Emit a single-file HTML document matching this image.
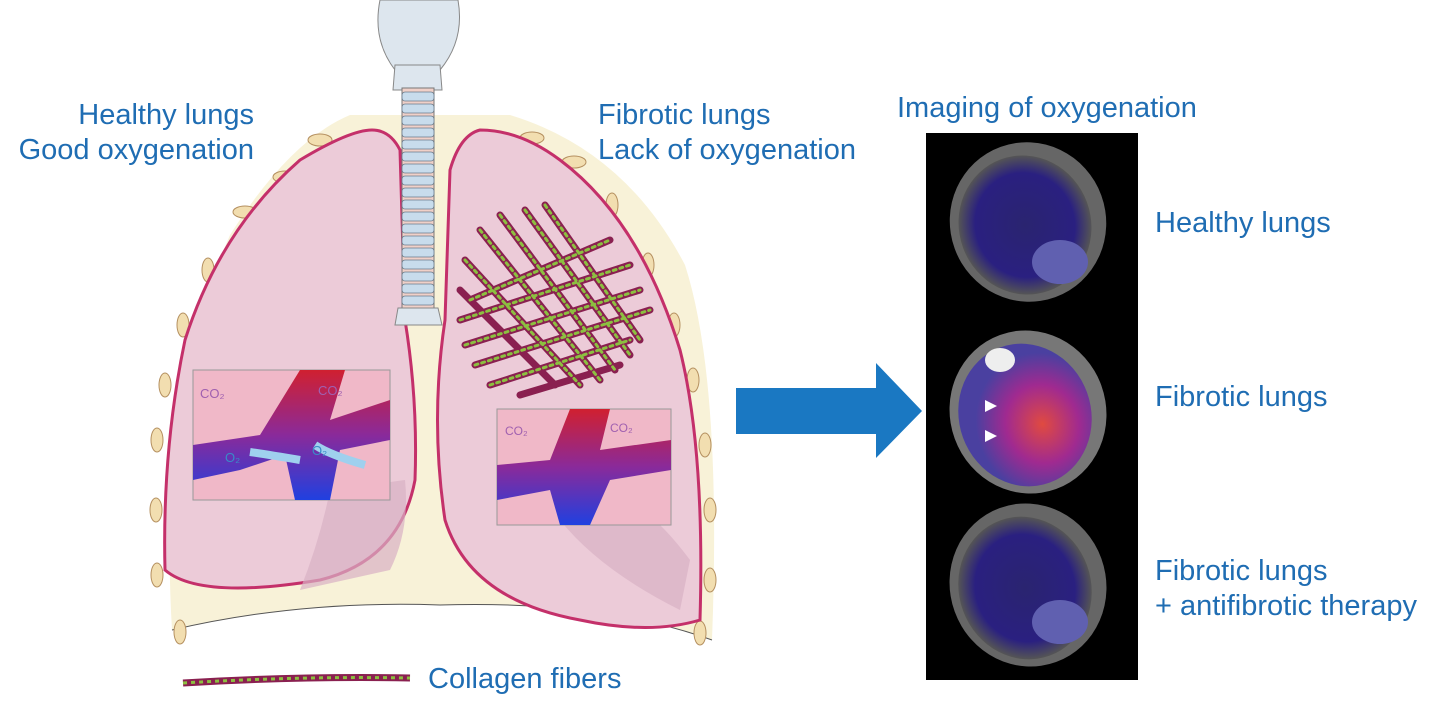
<!DOCTYPE html>
<html><head><meta charset="utf-8"><style>
body{margin:0;background:#fff;width:1435px;height:714px;overflow:hidden;position:relative;font-family:"Liberation Sans",Arial,sans-serif}
.t{position:absolute;color:#1f6db3;font-size:29px;line-height:35px;white-space:nowrap}
</style></head><body>
<svg width="1435" height="714" style="position:absolute;left:0;top:0">
<defs>
<linearGradient id="v" x1="0" y1="0" x2="0" y2="1"><stop offset="0" stop-color="#d02030"/><stop offset="0.5" stop-color="#8a2a9a"/><stop offset="1" stop-color="#2040e0"/></linearGradient>
<radialGradient id="s1" cx="0.5" cy="0.5" r="0.5"><stop offset="0" stop-color="#2a2470"/><stop offset="0.75" stop-color="#2a2080"/><stop offset="1" stop-color="#555"/></radialGradient>
<radialGradient id="s2" cx="0.6" cy="0.6" r="0.5"><stop offset="0" stop-color="#e04a40"/><stop offset="0.55" stop-color="#a02a90"/><stop offset="1" stop-color="#4a40a0"/></radialGradient>
</defs>
<!-- chest -->
<path d="M172,630 Q158,400 230,235 Q290,140 350,115 L510,115 Q625,150 685,265 Q722,380 712,640 Q600,600 440,605 Q300,600 172,630 Z" fill="#f8f2d8"/>
<path d="M172,630 Q300,600 440,605 Q600,600 712,640" fill="none" stroke="#555" stroke-width="1"/>
<!-- ribs -->
<g fill="#f2deb0" stroke="#b59060" stroke-width="1">
<ellipse cx="320" cy="140" rx="12" ry="6"/><ellipse cx="285" cy="177" rx="12" ry="6"/><ellipse cx="245" cy="212" rx="12" ry="6"/><ellipse cx="208" cy="270" rx="6" ry="12"/><ellipse cx="183" cy="325" rx="6" ry="12"/><ellipse cx="165" cy="385" rx="6" ry="12"/><ellipse cx="157" cy="440" rx="6" ry="12"/><ellipse cx="156" cy="510" rx="6" ry="12"/><ellipse cx="157" cy="575" rx="6" ry="12"/><ellipse cx="180" cy="632" rx="6" ry="12"/>
<ellipse cx="532" cy="138" rx="12" ry="6"/><ellipse cx="574" cy="162" rx="12" ry="6"/><ellipse cx="612" cy="205" rx="6" ry="12"/><ellipse cx="648" cy="265" rx="6" ry="12"/><ellipse cx="674" cy="325" rx="6" ry="12"/><ellipse cx="693" cy="380" rx="6" ry="12"/><ellipse cx="705" cy="445" rx="6" ry="12"/><ellipse cx="710" cy="510" rx="6" ry="12"/><ellipse cx="710" cy="580" rx="6" ry="12"/><ellipse cx="700" cy="633" rx="6" ry="12"/>
</g>
<!-- lungs -->
<path d="M372,130 Q350,130 300,160 Q220,230 185,340 Q162,450 165,570 Q200,600 320,580 Q400,560 415,480 Q418,400 405,320 L400,150 Q390,130 372,130 Z" fill="#eccbd8" stroke="#c4306a" stroke-width="3"/>
<path d="M480,130 Q460,135 450,170 L445,320 Q430,420 445,520 Q470,600 580,620 Q650,635 700,620 Q705,450 680,350 Q640,220 560,160 Q520,130 480,130 Z" fill="#eccbd8" stroke="#c4306a" stroke-width="3"/>
<path d="M330,490 Q320,540 300,590 L390,570 Q410,530 405,480 Z" fill="#d8b0c4" opacity="0.7"/>
<path d="M560,520 Q600,570 680,610 L690,560 Q660,520 640,510 Z" fill="#d8b0c4" opacity="0.7"/>
<!-- trachea -->
<path d="M380,0 Q372,40 395,70 L440,70 Q465,40 458,0 Z" fill="#dde6ee" stroke="#888"/>
<path d="M395,65 L440,65 L442,90 L393,90 Z" fill="#dde6ee" stroke="#888"/>
<rect x="402" y="88" width="32" height="225" fill="#f0d0c8" stroke="#777"/>
<g fill="#c8dcec" stroke="#6a7a8a" stroke-width="0.8">
<rect x="402" y="92" width="32" height="9" rx="3"/><rect x="402" y="104" width="32" height="9" rx="3"/><rect x="402" y="116" width="32" height="9" rx="3"/><rect x="402" y="128" width="32" height="9" rx="3"/><rect x="402" y="140" width="32" height="9" rx="3"/><rect x="402" y="152" width="32" height="9" rx="3"/><rect x="402" y="164" width="32" height="9" rx="3"/><rect x="402" y="176" width="32" height="9" rx="3"/><rect x="402" y="188" width="32" height="9" rx="3"/><rect x="402" y="200" width="32" height="9" rx="3"/><rect x="402" y="212" width="32" height="9" rx="3"/><rect x="402" y="224" width="32" height="9" rx="3"/><rect x="402" y="236" width="32" height="9" rx="3"/><rect x="402" y="248" width="32" height="9" rx="3"/><rect x="402" y="260" width="32" height="9" rx="3"/><rect x="402" y="272" width="32" height="9" rx="3"/><rect x="402" y="284" width="32" height="9" rx="3"/><rect x="402" y="296" width="32" height="9" rx="3"/>
</g>
<path d="M398,308 L438,308 L442,325 L395,325 Z" fill="#dde6ee" stroke="#888"/>
<!-- alveoli boxes -->
<rect x="193" y="370" width="197" height="130" fill="#f0b8c8" stroke="#999"/>
<path d="M193,445 L260,435 L300,370 L345,370 L330,420 L390,400 L390,440 L340,450 L330,500 L295,500 L285,455 L240,470 L193,480 Z" fill="url(#v)"/>
<path d="M300,460 Q270,455 250,452" stroke="#9fd0ee" stroke-width="8" fill="none"/><path d="M365,465 Q330,455 315,445" stroke="#9fd0ee" stroke-width="8" fill="none"/>
<text x="200" y="398" font-size="13" fill="#a060b0">CO₂</text><text x="318" y="395" font-size="13" fill="#a060b0">CO₂</text>
<text x="225" y="462" font-size="13" fill="#3a8ac8">O₂</text><text x="312" y="455" font-size="13" fill="#3a8ac8">O₂</text>
<rect x="497" y="409" width="174" height="116" fill="#f0b8c8" stroke="#999"/>
<path d="M497,465 L550,460 L570,409 L610,409 L600,450 L671,440 L671,470 L610,480 L590,525 L560,525 L550,490 L497,500 Z" fill="url(#v)"/>
<text x="505" y="435" font-size="12" fill="#a060b0">CO₂</text><text x="610" y="432" font-size="12" fill="#a060b0">CO₂</text>
<!-- collagen mesh -->
<g stroke-width="7" stroke-linecap="round">
<g stroke="#8a2050"><path d="M480,230 L600,380"/><path d="M500,215 L615,370"/><path d="M525,210 L630,355"/><path d="M545,205 L640,340"/><path d="M465,260 L580,385"/><path d="M460,290 L555,385"/>
<path d="M470,300 L610,240"/><path d="M460,320 L630,265"/><path d="M465,345 L640,290"/><path d="M475,365 L650,310"/><path d="M490,385 L630,340"/><path d="M520,395 L620,365"/></g>
<g stroke="#8cc040" stroke-width="3" stroke-dasharray="3 4"><path d="M480,230 L600,380"/><path d="M500,215 L615,370"/><path d="M525,210 L630,355"/><path d="M545,205 L640,340"/><path d="M465,260 L580,385"/><path d="M470,300 L610,240"/><path d="M460,320 L630,265"/><path d="M465,345 L640,290"/><path d="M475,365 L650,310"/><path d="M490,385 L630,340"/></g>
</g>
<path d="M183,683 Q300,676 410,678" stroke="#8a2050" stroke-width="7" fill="none"/>
<path d="M183,683 Q300,676 410,678" stroke="#8cc040" stroke-width="3" stroke-dasharray="4 4" fill="none"/>
<!-- arrow -->
<path d="M736,388 L876,388 L876,363 L922,411 L876,458 L876,434 L736,434 Z" fill="#1a78c2"/>
<!-- scans -->
<rect x="926" y="133" width="212" height="547" fill="#000"/>
<g>
<ellipse cx="1028" cy="222" rx="78" ry="80" fill="#666" transform="rotate(-20 1028 222)"/><ellipse cx="1025" cy="225" rx="66" ry="70" fill="url(#s1)" transform="rotate(-20 1025 225)"/>
<ellipse cx="1060" cy="262" rx="28" ry="22" fill="#6060b0"/>
<ellipse cx="1028" cy="412" rx="78" ry="82" fill="#777" transform="rotate(-20 1028 412)"/><ellipse cx="1025" cy="415" rx="66" ry="72" fill="url(#s2)" transform="rotate(-20 1025 415)"/>
<ellipse cx="1000" cy="360" rx="15" ry="12" fill="#eee"/>
<ellipse cx="1028" cy="585" rx="78" ry="82" fill="#666" transform="rotate(-20 1028 585)"/><ellipse cx="1025" cy="588" rx="66" ry="72" fill="url(#s1)" transform="rotate(-20 1025 588)"/>
<ellipse cx="1060" cy="622" rx="28" ry="22" fill="#6060b0"/>
<path d="M985,400 l12,6 l-12,6z M985,430 l12,6 l-12,6z" fill="#fff"/>
</g>
</svg>
<div class="t" style="right:1181px;top:98px;text-align:right">Healthy lungs<br>Good oxygenation</div>
<div class="t" style="left:598px;top:98px">Fibrotic lungs<br>Lack of oxygenation</div>
<div class="t" style="left:897px;top:91px">Imaging of oxygenation</div>
<div class="t" style="left:1155px;top:206px">Healthy lungs</div>
<div class="t" style="left:1155px;top:380px">Fibrotic lungs</div>
<div class="t" style="left:1155px;top:554px">Fibrotic lungs<br>+ antifibrotic therapy</div>
<div class="t" style="left:428px;top:662px">Collagen fibers</div>
</body></html>
